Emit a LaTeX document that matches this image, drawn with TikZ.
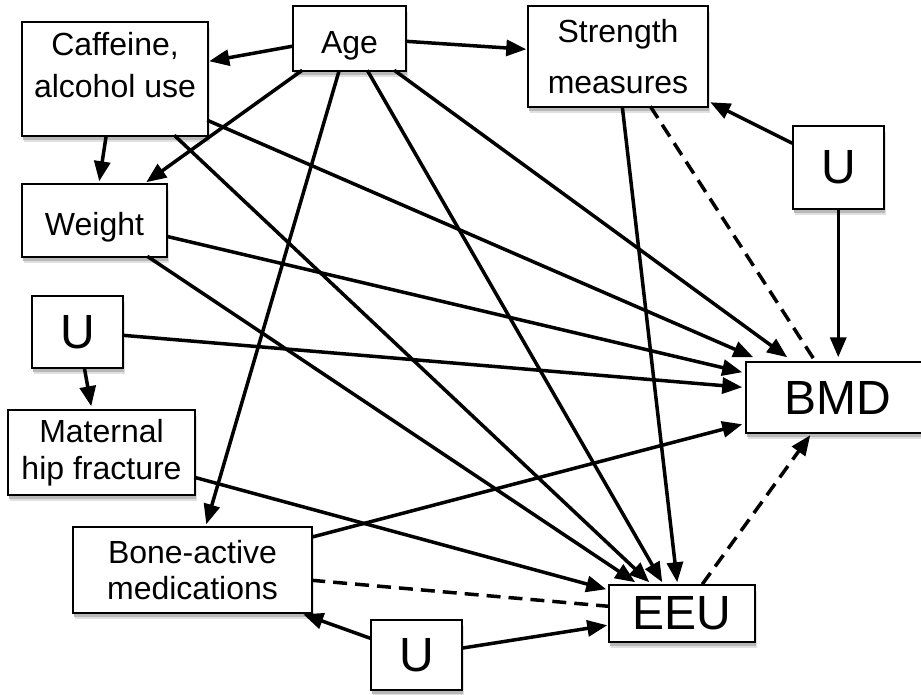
\documentclass[tikz,border=0pt]{standalone}
\usepackage{fontspec}
\setmainfont{Liberation Sans}
\usetikzlibrary{arrows.meta,calc,shadows}
\begin{document}
\begin{tikzpicture}[x=1pt,y=-1pt,
  box/.style={draw=black, line width=1.5pt, fill=white, inner sep=0pt, align=center,
    general shadow={fill=black!12, draw=none, shadow xshift=1.5pt, shadow yshift=-6pt},
    general shadow={fill=black!28, draw=none, shadow xshift=1pt, shadow yshift=-3.5pt}},
  small/.style={font=\fontsize{32}{#1}\selectfont},
  big/.style={font=\fontsize{48}{52}\selectfont},
  edge/.style={line width=3.5pt, -{Triangle[length=20pt,width=16pt]}},
  dashedge/.style={line width=3.5pt, dash pattern=on 14pt off 8pt},
  dasharrow/.style={line width=3.5pt, dash pattern=on 14pt off 8pt, -{Triangle[length=20pt,width=16pt]}}
]
\useasboundingbox (0,0) rectangle (921,694);
\fill[white] (0,0) rectangle (921,694);

% nodes
\node[box, minimum width=186pt, minimum height=114pt,
  label={[small=42, align=center, yshift=14pt]center:{Caffeine,\\alcohol use}}] (caf) at (115,79) {};
\node[box, small=36, text height=29pt, text depth=0pt, minimum width=113pt, minimum height=65pt] (age) at (349.5,38.5) {Age};
\node[box, small=51, minimum width=180pt, minimum height=101pt] (str) at (618,56.5) {Strength\\measures};
\node[box, big, minimum width=91pt, minimum height=83pt] (ur) at (838.5,167.5) {U};
\node[box, small=36, text height=29pt, text depth=0pt, minimum width=145pt, minimum height=73pt] (wt) at (94.5,220.5) {Weight};
\node[box, big, minimum width=91pt, minimum height=72pt] (ul) at (77.5,332) {U};
\node[box, small=37, minimum width=187pt, minimum height=85pt] (mat) at (101.5,452.5) {Maternal\\hip fracture};
\node[box, big, minimum width=184pt, minimum height=71pt] (bmd) at (838,397.5) {BMD};
\node[box, small=36, minimum width=239pt, minimum height=86pt] (bone) at (192.5,570) {Bone-active\\medications};
\node[box, big, minimum width=146pt, minimum height=57pt] (eeu) at (682,613.5) {EEU};
\node[box, big, minimum width=91pt, minimum height=70pt] (ub) at (416.5,655) {U};

% connectors
\draw[edge] ($(age.north west)+(0,41)$) -- ($(caf.north west)+(188,40)$);
\draw[edge] ($(age.north west)+(10,65)$) -- ($(wt.north west)+(125,-1)$);
\draw[edge] ($(age.north west)+(113,36)$) -- ($(str.north west)+(-1,44)$);
\draw[edge] ($(caf.north west)+(85,114)$) -- ($(wt.north west)+(78,-2)$);
\draw[edge] ($(age.north west)+(47,65)$) -- ($(bone.north west)+(134,-2)$);
\draw[edge] ($(age.north west)+(75,65)$) -- ($(eeu.north west)+(54,-2)$);
\draw[edge] ($(age.north west)+(102,65)$) -- ($(bmd.north west)+(42,-4)$);
\draw[edge] ($(caf.north west)+(186,99)$) -- ($(bmd.north west)+(8,-4)$);
\draw[edge] ($(caf.north west)+(153,114)$) -- ($(eeu.north west)+(41,-2)$);
\draw[edge] ($(wt.north west)+(145,53)$) -- ($(bmd.north west)+(-3,11)$);
\draw[edge] ($(wt.north west)+(126,73)$) -- ($(eeu.north west)+(27,-2)$);
\draw[edge] ($(str.north west)+(95,101)$) -- ($(eeu.north west)+(69,-2)$);
\draw[dashedge] ($(str.north west)+(123,101)$) -- ($(bmd.north west)+(70,0)$);
\draw[edge] ($(ur.north west)+(0,18)$) -- ($(str.north west)+(183,97)$);
\draw[edge] ($(ur.north west)+(46,83)$) -- ($(bmd.north west)+(93,-4)$);
\draw[edge] ($(ul.north west)+(91,40)$) -- ($(bmd.north west)+(-3,26)$);
\draw[edge] ($(ul.north west)+(53,72)$) -- ($(mat.north west)+(84,-3)$);
\draw[edge] ($(mat.north west)+(187,68)$) -- ($(eeu.north west)+(-2,5)$);
\draw[edge] ($(bone.north west)+(239,11)$) -- ($(bmd.north west)+(-3,63)$);
\draw[dashedge] ($(bone.north west)+(239,54)$) -- ($(eeu.north west)+(0,22)$);
\draw[edge] ($(ub.north west)+(0,19)$) -- ($(bone.north west)+(231,88)$);
\draw[edge] ($(ub.north west)+(91,29)$) -- ($(eeu.north west)+(-1,41)$);
\draw[dasharrow] ($(eeu.north west)+(94,0)$) -- ($(bmd.north west)+(65,74)$);
\end{tikzpicture}
\end{document}
